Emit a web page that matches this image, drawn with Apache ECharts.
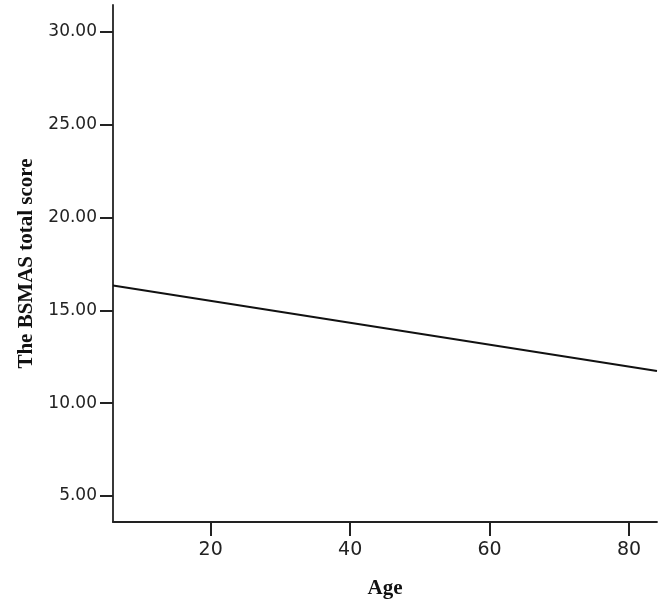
<!DOCTYPE html>
<html>
<head>
<meta charset="utf-8">
<script src="https://cdn.jsdelivr.net/npm/echarts@6/dist/echarts.min.js"></script>
<style>
    html, body { margin: 0; padding: 0; background: #fff; }
    #container { width: 669px; height: 609px; }
</style>
</head>
<body>
<div id="container"></div>
<script>
// 数据
var ageValues = [6, 84]; // 回归线两端的年龄
var scoreValues = [16.34, 11.74]; // 对应的 BSMAS 总分
var xTicks = [20, 40, 60, 80];
var yTicks = [5, 10, 15, 20, 25, 30];

var lineData = [];
for (var i = 0; i < ageValues.length; i++) {
    lineData.push([ageValues[i], scoreValues[i]]);
}

var chart = echarts.init(document.getElementById('container'));
var axisColor = '#222';
var option = {
    backgroundColor: '#fff',
    animation: false,
    grid: {
        left: 113,
        right: 12,
        top: 5,
        bottom: 87,
        outerBoundsMode: 'none'
    },
    xAxis: {
        type: 'value',
        min: 6,
        max: 84,
        name: 'Age',
        nameLocation: 'middle',
        nameGap: 56,
        nameTextStyle: {
            fontFamily: 'Liberation Serif',
            fontWeight: 'bold',
            fontSize: 21,
            color: '#111'
        },
        axisLine: { show: true, lineStyle: { color: axisColor, width: 1.8 } },
        axisTick: { show: true, length: 14, customValues: xTicks, lineStyle: { color: axisColor, width: 2 } },
        axisLabel: {
            customValues: xTicks,
            margin: 19,
            fontFamily: 'DejaVu Sans',
            fontSize: 19,
            color: '#222'
        },
        splitLine: { show: false }
    },
    yAxis: {
        type: 'value',
        min: 3.6,
        max: 31.45,
        name: 'The BSMAS total score',
        nameLocation: 'middle',
        nameGap: 76,
        nameTextStyle: {
            fontFamily: 'Liberation Serif',
            fontWeight: 'bold',
            fontSize: 21,
            color: '#111'
        },
        axisLine: { show: true, lineStyle: { color: axisColor, width: 1.8 } },
        axisTick: { show: true, length: 13, customValues: yTicks, lineStyle: { color: axisColor, width: 2 } },
        axisLabel: {
            customValues: yTicks,
            margin: 16,
            fontFamily: 'DejaVu Sans',
            fontSize: 17,
            color: '#222',
            formatter: function(v) { return v.toFixed(2); }
        },
        splitLine: { show: false }
    },
    series: [{
        type: 'line',
        data: lineData,
        symbol: 'none',
        lineStyle: { color: '#111', width: 2 }
    }]
};
chart.setOption(option);
</script>
</body>
</html>
